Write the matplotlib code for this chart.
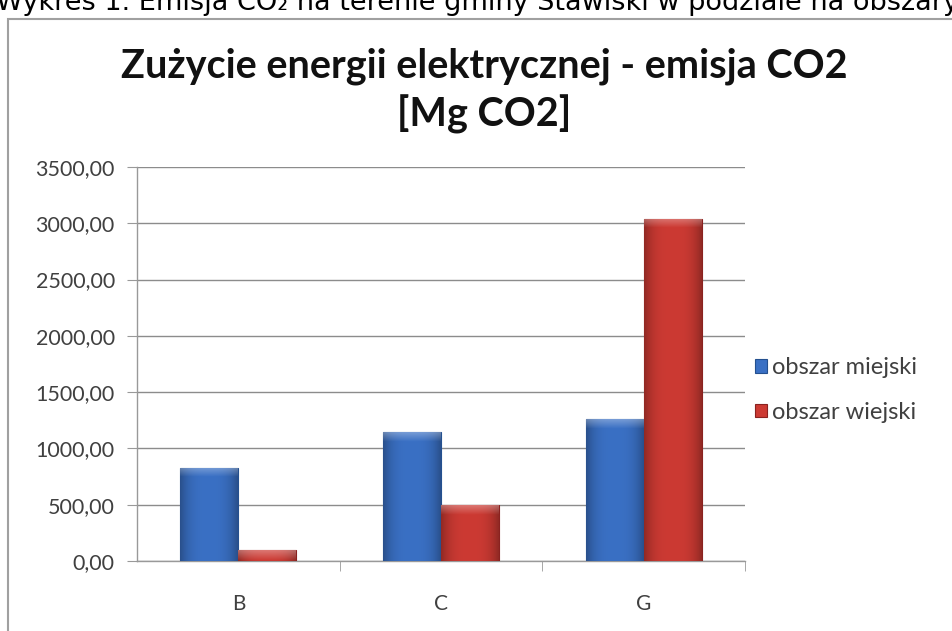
import matplotlib.pyplot as plt
import matplotlib.patches as mpatches
import matplotlib.colors as mcolors
import numpy as np
from matplotlib.ticker import FuncFormatter

# dane [Mg CO2]
categories = ["B", "C", "G"]
miejski = [830, 1145, 1260]
wiejski = [95, 495, 3040]
series_names = ["obszar miejski", "obszar wiejski"]

W, H = 953, 631
fig = plt.figure(figsize=(W / 100, H / 100), dpi=100)
fig.patch.set_facecolor("white")

# podpis nad wykresem (uciety u gory)
fig.text(-4 / W, 1 - 10 / H, "Wykres 1. Emisja CO\u2082 na terenie gminy Stawiski w podziale na obszary",
         fontsize=19.5, family="DejaVu Sans", va="baseline", ha="left", color="black")

# ramka wykresu
frame = mpatches.Rectangle((8 / W, -0.1), 1.2, 1 - 19 / H + 0.1, transform=fig.transFigure,
                           facecolor="white", edgecolor="#a0a0a0", lw=1.5, zorder=-1)
fig.patches.append(frame)

title_font = ["Lato", "DejaVu Sans"]
fig.text(484 / W, 1 - 66 / H, "Zużycie energii elektrycznej - emisja CO2", fontsize=28.5,
         fontweight="bold", family=title_font, ha="center", va="center", color="#111111")
fig.text(484 / W, 1 - 114 / H, "[Mg CO2]", fontsize=28.5,
         fontweight="bold", family=title_font, ha="center", va="center", color="#111111")

ax_h = (561 - 167)
ax = fig.add_axes([137 / W, 1 - 561 / H, (745 - 137) / W, ax_h / H])
ax.set_zorder(2)
ax.set_facecolor("none")

x = np.arange(len(categories))
bw = 1 / 3.5
b1 = ax.bar(x - bw / 2, miejski, bw, color="#3a70c4", edgecolor="#24508f", lw=0.8, label=series_names[0], zorder=3)
b2 = ax.bar(x + bw / 2, wiejski, bw, color="#cc3a33", edgecolor="#8a2220", lw=0.8, label=series_names[1], zorder=3)


def shade(bars, base):
    # prosty efekt 3D: ciemniejsze boki, jasniejsza krawedz u gory
    rgb = np.array(mcolors.to_rgb(base))
    nx = 40
    t = np.linspace(-1, 1, nx)
    side = 1 - 0.28 * np.abs(t) ** 3
    for p in bars:
        x0, w, h = p.get_x(), p.get_width(), p.get_height()
        ny = max(int(h * ax_h / 3500), 2)
        img = np.ones((ny, nx, 3)) * rgb
        img *= side[None, :, None]
        rows = np.arange(ny)
        glow = np.clip(1 - rows / 9.0, 0, 1) * 0.3
        img = img + (1 - img) * glow[:, None, None]
        img = np.clip(img, 0, 1)
        im = ax.imshow(img, extent=[x0, x0 + w, 0, h], aspect="auto", zorder=3.5, origin="upper",
                       interpolation="bilinear")
        im.set_clip_path(p)


shade(b1, "#3a70c4")
shade(b2, "#cc3a33")
ax.set_xlim(-0.5, 2.5)
ax.set_ylim(0, 3500)

ax.set_yticks(np.arange(0, 3501, 500))
ax.yaxis.set_major_formatter(FuncFormatter(lambda v, p: f"{v:.2f}".replace(".", ",")))
ax.set_xticks(x)
ax.set_xticklabels(categories)
ax.set_xticks([0.5, 1.5, 2.5], minor=True)
ax.tick_params(axis="x", which="major", length=0, pad=24, labelsize=15, labelcolor="#404040")
ax.tick_params(axis="x", which="minor", length=7, color="#999999", direction="out")
ax.tick_params(axis="y", length=7, color="#999999", pad=9, labelsize=15.5, labelcolor="#404040")
for lab in ax.get_xticklabels() + ax.get_yticklabels():
    lab.set_family(["Lato", "DejaVu Sans"])

ax.grid(axis="y", color="#8c8c8c", lw=1, zorder=1)
for s in ["top", "right"]:
    ax.spines[s].set_visible(False)
for s in ["left", "bottom"]:
    ax.spines[s].set_color("#999999")
    ax.spines[s].set_linewidth(1)

ax.legend(loc="center left", bbox_to_anchor=(755 / W, 1 - 390 / H), bbox_transform=fig.transFigure,
          frameon=False, prop={"family": "Lato", "size": 17}, labelcolor="#404040",
          borderpad=0, borderaxespad=0,
          handlelength=0.5, handleheight=0.5, handletextpad=0.2, labelspacing=1.0)

fig.savefig("out.png", dpi=100)
